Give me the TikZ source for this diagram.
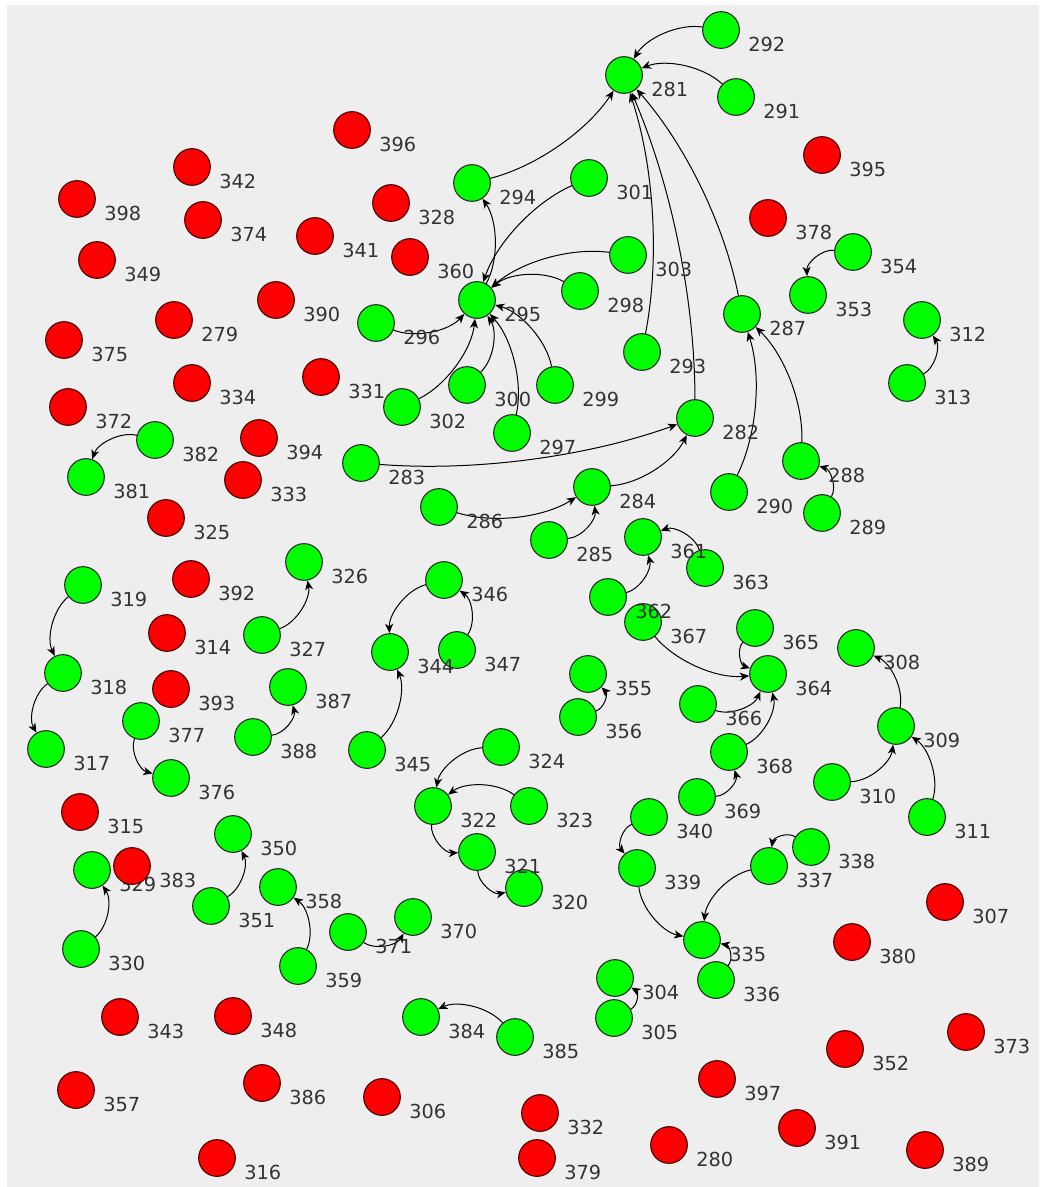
\documentclass[tikz,border=0pt]{standalone}
\usepackage{fontspec}
\setmainfont{DejaVu Sans}
\usepackage{xcolor}
\usetikzlibrary{arrows.meta}
\usetikzlibrary{calc}
\definecolor{panel}{HTML}{EEEEEE}
\definecolor{vgreen}{HTML}{00FF00}
\definecolor{vred}{HTML}{FF0000}
\tikzset{
    vnode/.style = {circle, draw=black!85, line width=0.8pt, minimum size=27.5pt, inner sep=0pt},
    green_node/.style = {vnode, fill=vgreen},
    red_node/.style = {vnode, fill=vred, draw=black!75!red},
    vlabel/.style = {anchor=west, inner sep=0pt, text=black!80, font=\fontsize{14.5}{15}\selectfont},
    edge/.style = {->, >={Stealth[length=7pt,width=6pt,inset=2pt]}, line width=0.75pt, black,
        shorten <=14pt, shorten >=14.2pt}
}

\begin{document}
\begin{tikzpicture}[x=0.75pt, y=-0.75pt]
    \useasboundingbox (0,0) rectangle (1039,1187);
    \fill[white] (0,0) rectangle (1039,1187);
    \fill[panel] (7,5) rectangle (1039,1187);
    % green vertices
    \foreach \n/\x/\y in {281/624/75, 282/695/418, 283/361/463, 284/592/487, 285/549/540,
        286/439/507, 287/742/314, 288/801/461, 289/822/513, 290/729/492, 291/736/97,
        292/721/30, 293/642/352, 294/472/183, 295/477/300, 296/376/323, 297/512/433,
        298/580/291, 299/555/385, 300/467/385, 301/589/178, 302/402/407, 303/628/255,
        304/615/978, 305/614/1018, 308/856/648, 309/896/726, 310/832/782, 311/927/817,
        312/922/320, 313/907/383, 317/46/749, 318/63/673, 319/83/585, 320/524/888,
        321/477/852, 322/433/806, 323/529/806, 324/501/747, 326/304/562, 327/262/635,
        329/92/870, 330/81/949, 335/702/940, 336/716/980, 337/769/866, 338/811/847,
        339/637/868, 340/649/817, 344/390/652, 345/367/750, 346/444/580, 347/457/650,
        350/233/834, 351/211/906, 353/808/295, 354/853/252, 355/588/674, 356/578/717,
        358/278/887, 359/298/966, 361/643/537, 362/608/597, 363/705/568, 364/768/674,
        365/755/628, 366/698/704, 367/643/622, 368/729/752, 369/697/797, 370/413/917,
        371/348/932, 376/171/778, 377/141/721, 381/86/477, 382/155/440, 384/421/1017,
        385/515/1037, 387/288/687, 388/253/737}
        \node[green_node] (n\n) at (\x,\y) {};
    % red vertices
    \foreach \n/\x/\y in {279/174/320, 280/669/1145, 306/382/1097, 307/945/902, 314/167/633,
        315/80/812, 316/217/1158, 325/166/518, 328/391/203, 331/321/377, 332/540/1113,
        333/243/480, 334/192/383, 341/315/236, 342/192/167, 343/120/1017, 348/233/1016,
        349/97/260, 352/845/1049, 357/76/1090, 360/410/257, 372/68/407, 373/966/1032,
        374/203/220, 375/64/340, 378/768/218, 379/537/1158, 380/852/942, 386/262/1083,
        389/925/1150, 390/276/300, 391/797/1128, 392/191/579, 393/171/689, 394/259/438,
        395/822/155, 396/352/130, 397/717/1079, 398/77/199}
        \node[red_node] (n\n) at (\x,\y) {};
    % edges, centre to centre, bent to the right
    \foreach \a/\b in {292/281, 291/281, 294/281, 293/281, 282/281, 287/281, 295/294,
        301/295, 303/295, 298/295, 296/295, 302/295, 300/295, 297/295, 299/295,
        283/282, 284/282, 286/284, 285/284, 290/287, 288/287, 289/288, 354/353,
        313/312, 382/381, 362/361, 363/361, 367/364, 365/364, 366/364, 368/364,
        369/368, 311/309, 310/309, 309/308, 319/318, 318/317, 327/326, 377/376,
        388/387, 346/344, 347/346, 345/344, 356/355, 324/322, 323/322, 322/321,
        321/320, 340/339, 339/335, 337/335, 338/337, 336/335, 330/329, 351/350,
        359/358, 371/370, 385/384, 305/304}
    {
        \coordinate (q) at ($(n\a.center)!0.5!(n\b.center)!27pt!-90:(n\b.center)$);
        \draw[edge] (n\a.center) .. controls ($(n\a.center)!0.667!(q)$)
            and ($(n\b.center)!0.667!(q)$) .. (n\b.center);
    }
    % labels
    \foreach \n in {279,...,382,384,385,...,398}
        \node[vlabel] (l\n) at ($(n\n)+(27,14)$) {\n};
    % 383 sits over the label of 329
    \node[red_node] (n383) at (132,866) {};
    \node[vlabel] (l383) at ($(n383)+(27,14)$) {383};
\end{tikzpicture}
\end{document}
